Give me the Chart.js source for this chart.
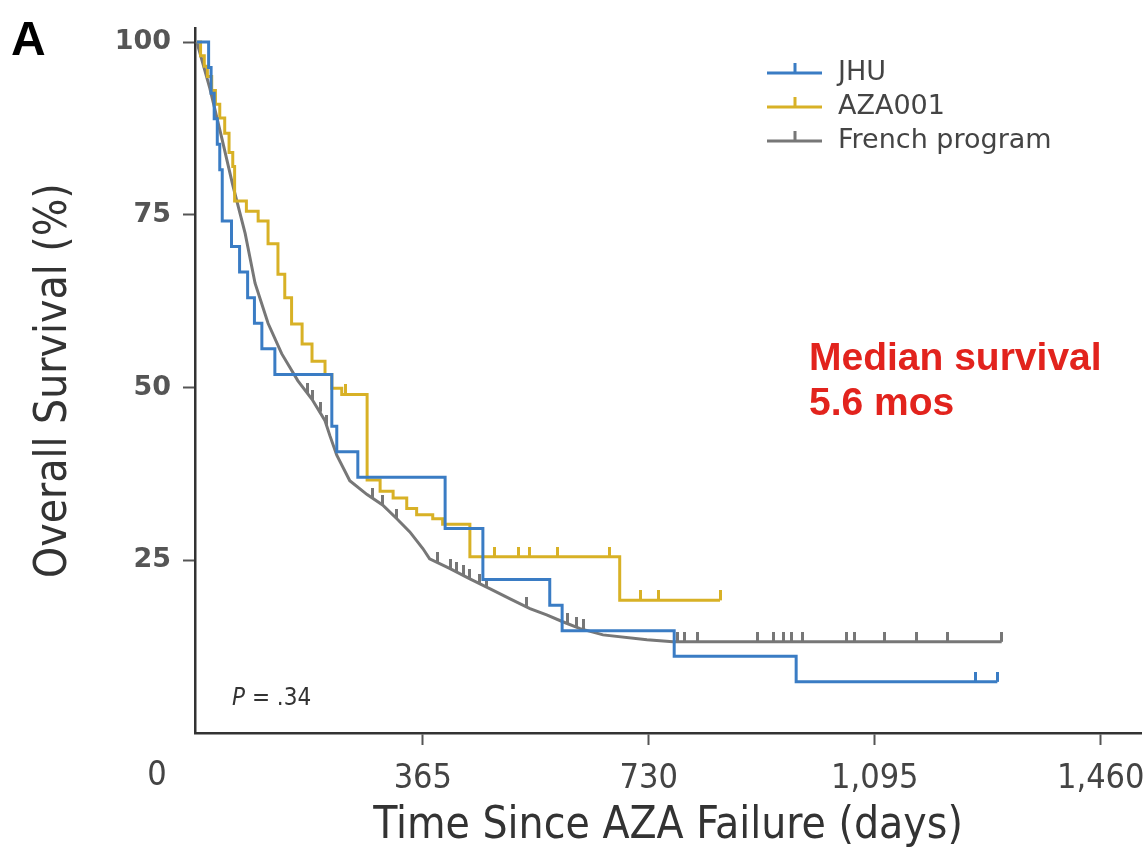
<!DOCTYPE html>
<html>
<head>
<meta charset="utf-8">
<script src="https://cdn.jsdelivr.net/npm/chart.js@4.4.1/dist/chart.umd.min.js"></script>
<style>
  html, body { margin: 0; padding: 0; background: #fff; }
  #wrap { width: 1147px; height: 857px; }
</style>
</head>
<body>
<div id="wrap"><canvas id="kmChart" width="1147" height="857"></canvas></div>
<script>
// Kaplan-Meier curves (days since AZA failure, % alive)
const jhuDays = [0, 19, 23, 28, 33, 37, 41, 56, 69, 82, 93, 105, 126, 218, 226, 260, 401, 462, 570, 590, 771, 968, 1293];
const jhuSurv = [100, 96.3, 92.6, 88.9, 85.2, 81.5, 74.1, 70.4, 66.7, 63.0, 59.3, 55.6, 51.9, 44.4, 40.7, 37.0, 29.6, 22.2, 18.5, 14.8, 11.1, 7.4, 7.4];

const azaDays = [0, 6, 12, 17, 24, 30, 37, 45, 52, 58, 61, 80, 99, 115, 131, 142, 153, 170, 186, 207, 218, 234, 275, 296, 317, 339, 355, 381, 397, 441, 683, 845];
const azaSurv = [100, 98, 96.5, 95, 93, 91, 89, 86.8, 84, 82, 77, 75.5, 74.1, 70.8, 66.4, 63, 59.2, 56.3, 53.8, 51.9, 49.9, 49, 36.6, 35, 34, 32.5, 31.6, 31, 30.2, 25.5, 19.2, 19.2];

const frDays = [0, 21, 40, 58, 78, 94, 115, 137, 163, 186, 207, 215, 226, 247, 275, 300, 323, 344, 365, 376, 409, 441, 473, 506, 538, 565, 591, 619, 656, 727, 769, 1300];
const frSurv = [100, 93.3, 86.2, 79.3, 72.3, 65.1, 59.3, 54.9, 51.0, 48.3, 45.2, 43.0, 40.2, 36.5, 34.5, 33.0, 31.0, 29.1, 26.7, 25.2, 23.8, 22.3, 20.9, 19.4, 18.0, 17.1, 16.1, 15.1, 14.2, 13.5, 13.2, 13.2];

// censored observations (day, %)
const jhuCensDays = [1257, 1293];
const jhuCensSurv = [7.4, 7.4];
const azaCensDays = [240, 481, 519, 538, 582, 667, 716, 745, 845];
const azaCensSurv = [49, 25.5, 25.5, 25.5, 25.5, 25.5, 19.2, 19.2, 19.2];
const frCensDays = [178, 187, 199, 210, 284, 300, 323, 388, 409, 420, 430, 441, 457, 468, 533, 598, 614, 624, 777, 788, 808, 906, 931, 947, 961, 979, 1050, 1063, 1111, 1163, 1212, 1300];
const frCensSurv = [49.2, 48.2, 46.5, 44.6, 34.0, 33.0, 31.0, 24.7, 23.8, 23.3, 22.8, 22.3, 21.6, 21.0, 18.2, 15.9, 15.3, 15.0, 13.2, 13.2, 13.2, 13.2, 13.2, 13.2, 13.2, 13.2, 13.2, 13.2, 13.2, 13.2, 13.2, 13.2];

const seriesNames = ['JHU', 'AZA001', 'French program'];
const seriesColors = ['#3a7cc4', '#d8b126', '#777777'];

const xTickValues = [0, 365, 730, 1095, 1460];
const xTickLabels = ['0', '365', '730', '1,095', '1,460'];
const yTickValues = [25, 50, 75, 100];

const narrow = "'Liberation Sans Narrow', 'DejaVu Sans Condensed', 'Roboto Condensed', sans-serif";

function pts(days, vals) {
    return days.map((d, i) => ({ x: d, y: vals[i] }));
}

// little upward tick used for censored patients
function censorMark(color) {
    const c = document.createElement('canvas');
    c.width = 3;
    c.height = 20;
    const g = c.getContext('2d');
    g.fillStyle = color;
    g.fillRect(0, 0, 3, 10);
    return c;
}

function curve(label, days, vals, color, stepped) {
    return {
        label: label,
        data: pts(days, vals),
        borderColor: color,
        borderWidth: 3,
        pointRadius: 0,
        fill: false,
        tension: 0,
        stepped: stepped
    };
}

function censors(label, days, vals, color) {
    return {
        label: label,
        data: pts(days, vals),
        showLine: false,
        pointStyle: censorMark(color),
        pointRadius: 5
    };
}

const extras = {
    id: 'extras',
    afterDraw(chart) {
        const ctx = chart.ctx;
        const xs = chart.scales.x;
        ctx.save();

        // panel letter
        ctx.fillStyle = '#000';
        ctx.font = "bold 48px 'Liberation Sans', Arial, sans-serif";
        ctx.textBaseline = 'alphabetic';
        ctx.textAlign = 'left';
        ctx.fillText('A', 11, 55);

        // legend
        seriesNames.forEach((name, i) => {
            const y = 73 + i * 34;
            ctx.strokeStyle = seriesColors[i];
            ctx.lineWidth = 3;
            ctx.beginPath();
            ctx.moveTo(767, y);
            ctx.lineTo(822, y);
            ctx.moveTo(795, y);
            ctx.lineTo(795, y - 10);
            ctx.stroke();
            ctx.fillStyle = '#444';
            ctx.font = "27px 'DejaVu Sans', sans-serif";
            ctx.textBaseline = 'middle';
            ctx.fillText(name, 838, y);
        });

        // median survival note
        ctx.fillStyle = '#e2231d';
        ctx.font = "bold 39px 'Liberation Sans', Arial, sans-serif";
        ctx.textBaseline = 'alphabetic';
        ctx.fillText('Median survival', 809, 370);
        ctx.fillText('5.6 mos', 809, 415);

        // p value
        ctx.fillStyle = '#333';
        ctx.font = 'italic 24px ' + narrow;
        ctx.fillText('P', 232, 705);
        const pw = ctx.measureText('P ').width;
        ctx.font = '24px ' + narrow;
        ctx.fillText('= .34', 232 + pw, 705);

        // the "0" label sits left of the origin in the original
        ctx.fillStyle = '#444';
        ctx.font = '34px ' + narrow;
        ctx.textAlign = 'center';
        ctx.textBaseline = 'top';
        ctx.fillText(xTickLabels[0], xs.getPixelForValue(0) - 40, xs.top + 26);
        ctx.restore();
    }
};

const ctxKm = document.getElementById('kmChart').getContext('2d');
const kmChart = new Chart(ctxKm, {
    type: 'line',
    data: {
        datasets: [
            curve(seriesNames[0], jhuDays, jhuSurv, seriesColors[0], 'before'),
            curve(seriesNames[1], azaDays, azaSurv, seriesColors[1], 'before'),
            curve(seriesNames[2], frDays, frSurv, seriesColors[2], false),
            censors('JHU censored', jhuCensDays, jhuCensSurv, seriesColors[0]),
            censors('AZA001 censored', azaCensDays, azaCensSurv, seriesColors[1]),
            censors('French censored', frCensDays, frCensSurv, seriesColors[2])
        ]
    },
    options: {
        responsive: false,
        animation: false,
        devicePixelRatio: 1,
        layout: { padding: { top: 28, right: 0, left: 0, bottom: 0 } },
        plugins: {
            legend: { display: false },
            tooltip: { enabled: false }
        },
        scales: {
            x: {
                type: 'linear',
                min: -3,
                max: 1525,
                afterBuildTicks: s => { s.ticks = xTickValues.map(v => ({ value: v })); },
                afterFit: s => {
                    s.height = 124;
                    s.paddingLeft = 0;
                    s.paddingRight = 0;
                },
                ticks: {
                    autoSkip: false,
                    maxRotation: 0,
                    padding: 14,
                    color: '#444',
                    font: { family: narrow, size: 34 },
                    callback: v => (v === 0 ? '' : xTickLabels[xTickValues.indexOf(v)])
                },
                grid: {
                    drawOnChartArea: false,
                    tickLength: 12,
                    tickWidth: 2,
                    tickColor: c => (c.tick && c.tick.value === 0 ? 'rgba(0,0,0,0)' : '#555')
                },
                border: { color: '#333', width: 2.5 },
                title: {
                    display: true,
                    text: 'Time Since AZA Failure (days)',
                    color: '#333',
                    font: { family: narrow, size: 44 },
                    padding: { top: 6 }
                }
            },
            y: {
                min: 0,
                max: 102,
                afterBuildTicks: s => { s.ticks = yTickValues.map(v => ({ value: v })); },
                afterFit: s => { s.width = 195; },
                ticks: {
                    padding: 12,
                    color: '#555',
                    font: { family: "'DejaVu Sans', sans-serif", size: 27, weight: 'bold' }
                },
                grid: {
                    drawOnChartArea: false,
                    tickLength: 12,
                    tickWidth: 2,
                    tickColor: '#555'
                },
                border: { color: '#333', width: 2.5 },
                title: {
                    display: true,
                    text: 'Overall Survival (%)',
                    color: '#333',
                    font: { family: narrow, size: 44 },
                    padding: { top: 28 }
                }
            }
        }
    },
    plugins: [extras]
});
</script>
</body>
</html>
